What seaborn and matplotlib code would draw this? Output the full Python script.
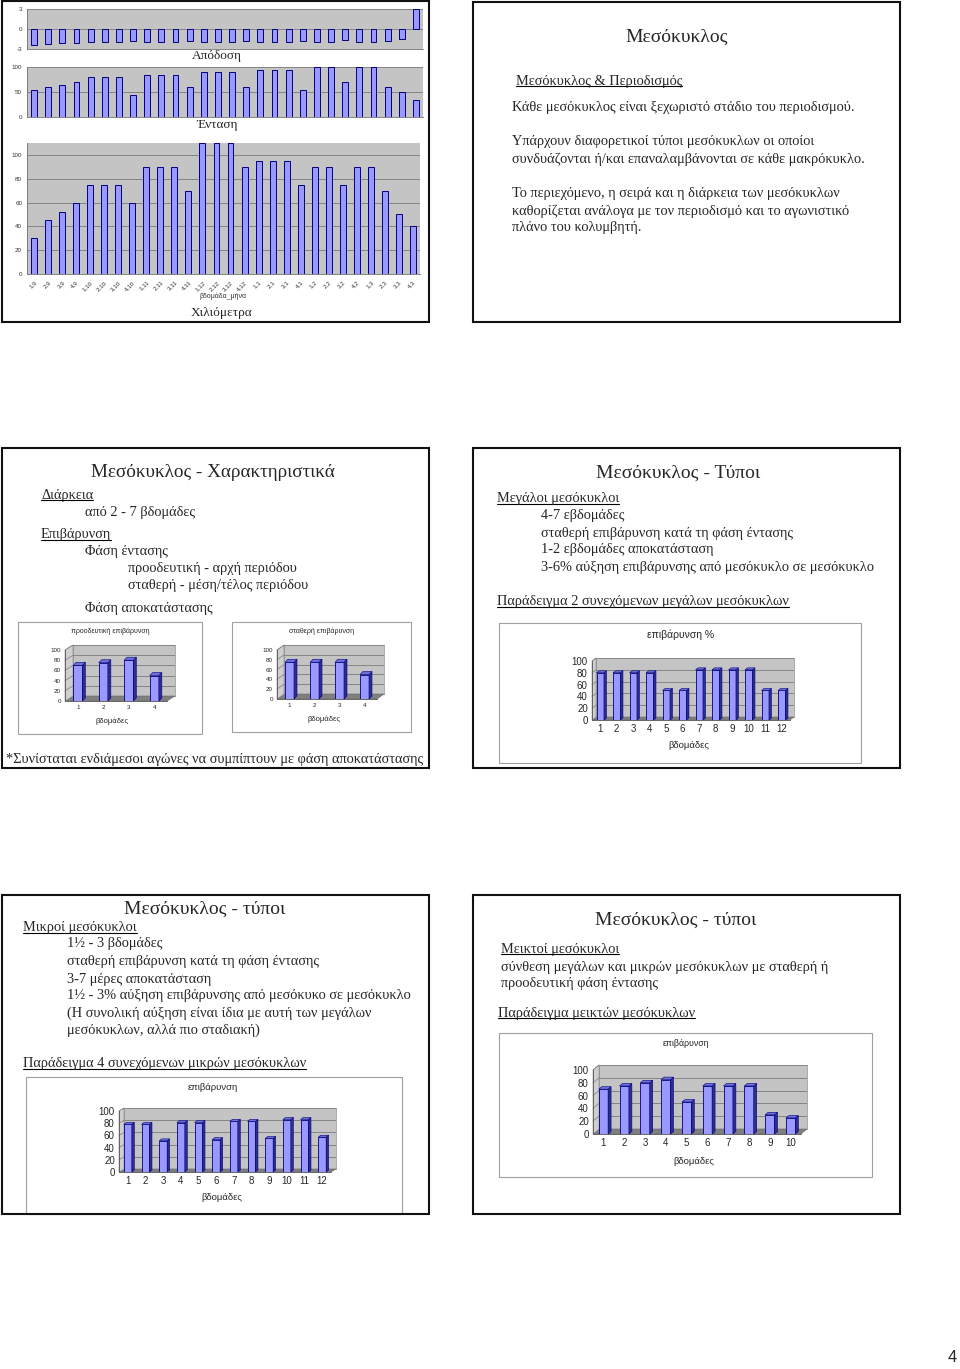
"""
Handout page with six slides about mesocycles (Greek swimming training notes).
"""
import matplotlib
matplotlib.use("Agg")
import matplotlib.pyplot as plt
import seaborn as sns
from matplotlib.patches import Rectangle, Polygon
from matplotlib.lines import Line2D

# ---- values ----
week_month = ["1,9", "2,9", "3,9", "4,9", "1,10", "2,10", "3,10", "4,10",
              "1,11", "2,11", "3,11", "4,11", "1,12", "2,12", "3,12", "4,12",
              "1,1", "2,1", "3,1", "4,1", "1,2", "2,2", "3,2", "4,2",
              "1,3", "2,3", "3,3", "4,3"]
performance = [-2.35, -2.25, -2.15, -2.05, -2.0, -2.0, -2.0, -1.8,
               -2.0, -2.0, -2.0, -1.8, -2.0, -2.0, -2.0, -1.8,
               -2.0, -2.0, -2.0, -1.8, -2.0, -2.0, -1.65, -2.0,
               -2.0, -1.8, -1.5, 3.0]
intensity = [55, 60, 65, 70, 80, 80, 80, 45, 85, 85, 85, 60, 90, 90, 90, 60,
             95, 95, 95, 55, 100, 100, 70, 100, 100, 60, 50, 35]
kilometres = [30, 45, 52, 60, 75, 75, 75, 60, 90, 90, 90, 70, 110, 110, 110, 90,
              95, 95, 95, 75, 90, 90, 75, 90, 90, 70, 50, 40]

weeks4 = [1, 2, 3, 4]
progressive_load = [70, 75, 80, 50]
steady_load = [75, 75, 75, 50]
weeks12 = [1, 2, 3, 4, 5, 6, 7, 8, 9, 10, 11, 12]
large_cycles_load = [80, 80, 80, 80, 50, 50, 85, 85, 85, 85, 50, 50]
small_cycles_load = [78, 78, 51, 81, 81, 53, 83, 83, 55, 86, 86, 57]
weeks10 = [1, 2, 3, 4, 5, 6, 7, 8, 9, 10]
mixed_cycles_load = [70, 75, 80, 85, 50, 75, 75, 75, 30, 25]
load_ticks = [0, 20, 40, 60, 80, 100]

W, H = 960, 1369
BAR = "#9999ff"
EDGE = "#000080"
SIDE = "#2e2e8a"
TOP = "#7070d8"
WALL = "#c4c4c4"
SERIF = ["Liberation Serif", "DejaVu Serif"]
SANS = ["Liberation Sans", "DejaVu Sans"]
BODY = 10.4

sns.set_style("white")
plt.rcParams["font.family"] = SANS
plt.rcParams["axes.unicode_minus"] = False

fig = plt.figure(figsize=(W / 100, H / 100), dpi=100)
renderer = fig.canvas.get_renderer()


def fbox(x0, y0, x1, y1):
    # pixel box (top-left origin) -> figure fractions
    return [x0 / W, 1 - y1 / H, (x1 - x0) / W, (y1 - y0) / H]


def ftext(x, y, s, size=BODY, ha="left", family=SERIF, underline=False, **kw):
    t = fig.text(x / W, 1 - y / H, s, fontsize=size, ha=ha, va="center",
                 family=family, **kw)
    if underline:
        bb = t.get_window_extent(renderer)
        _, _, d = renderer.get_text_width_height_descent("lp", t.get_fontproperties(), ismath=False)
        yl = bb.y0 + d - 1.5
        fig.add_artist(Line2D([bb.x0 / W, bb.x1 / W], [yl / H, yl / H],
                              color="black", lw=0.8))
    return t


def slide_border(x0, y0, x1, y1):
    fig.add_artist(Rectangle((x0 / W, 1 - y1 / H), (x1 - x0) / W, (y1 - y0) / H,
                             transform=fig.transFigure, fill=False,
                             edgecolor="#111111", lw=1.5, zorder=0.2))


def flat_chart(box, values, ylim, yticks, show_x=False):
    ax = fig.add_axes(fbox(*box))
    sns.barplot(x=week_month, y=values, ax=ax, color=BAR, edgecolor=EDGE,
                linewidth=0.7, width=0.42, saturation=1)
    ax.set_facecolor(WALL)
    ax.set_xlim(-0.5, len(week_month) - 0.5)
    ax.set_ylim(*ylim)
    ax.set_yticks(yticks)
    ax.yaxis.grid(True, color="#7a7a7a", lw=0.6)
    ax.xaxis.grid(False)
    ax.set_axisbelow(True)
    ax.set_xlabel("")
    ax.set_ylabel("")
    for side in ["top", "right"]:
        ax.spines[side].set_visible(False)
    for side in ["left", "bottom"]:
        ax.spines[side].set_color("#707070")
        ax.spines[side].set_linewidth(0.6)
    ax.tick_params(axis="y", labelsize=4.5, length=2, width=0.5, pad=1.5,
                   colors="#333333")
    if show_x:
        ax.set_xticks(range(len(week_month)))
        ax.set_xticklabels(week_month, rotation=45, ha="right",
                           rotation_mode="anchor", fontsize=4.5, color="#333333")
        ax.tick_params(axis="x", length=2, width=0.5, pad=2)
    else:
        ax.set_xticks([])
    return ax


def chart3d(box, weeks, values, tick_size, wall=(5, 4), depth=(3, 2.5), width=0.45):
    x0, y0, x1, y1 = box
    ox, oy = wall
    back = fig.add_axes(fbox(x0 + ox, y0 - oy, x1 + ox, y1 - oy), zorder=0.5)
    back.set_facecolor(WALL)
    back.set_ylim(0, 100)
    back.set_yticks(load_ticks)
    back.yaxis.grid(True, color="#7a7a7a", lw=0.6)
    back.set_xticks([])
    back.tick_params(left=False, labelleft=False)
    for s in back.spines.values():
        s.set_color("#8a8a8a")
        s.set_linewidth(0.5)

    front = fig.add_axes(fbox(x0, y0, x1, y1), zorder=0.8)
    front.patch.set_alpha(0)
    sns.barplot(x=weeks, y=values, ax=front, color=BAR, edgecolor=EDGE,
                linewidth=0.6, width=width, saturation=1)
    n = len(weeks)
    front.set_xlim(-0.5, n - 0.5)
    front.set_ylim(0, 100)
    front.set_yticks(load_ticks)
    front.set_xlabel("")
    front.set_ylabel("")
    for side in ["top", "right"]:
        front.spines[side].set_visible(False)
    for side in ["left", "bottom"]:
        front.spines[side].set_color("#555555")
        front.spines[side].set_linewidth(0.6)
    front.tick_params(axis="y", labelsize=tick_size, length=2, width=0.5, pad=1)
    front.tick_params(axis="x", labelsize=tick_size, length=0, pad=3)

    # floor and side wall
    pts = [(x0, y1), (x1, y1), (x1 + ox, y1 - oy), (x0 + ox, y1 - oy)]
    fig.add_artist(Polygon([(px / W, 1 - py / H) for px, py in pts], closed=True,
                           transform=fig.transFigure, facecolor="#7f7f7f",
                           edgecolor="#666666", lw=0.4, zorder=0.6))
    pts = [(x0, y1), (x0, y0), (x0 + ox, y0 - oy), (x0 + ox, y1 - oy)]
    fig.add_artist(Polygon([(px / W, 1 - py / H) for px, py in pts], closed=True,
                           transform=fig.transFigure, facecolor="#cfcfcf",
                           edgecolor="#8a8a8a", lw=0.4, zorder=0.6))
    inv = fig.transFigure.inverted()
    for v in load_ticks[1:]:
        fx, fy = inv.transform(front.transData.transform((-0.5, v)))
        fig.add_artist(Line2D([fx, fx + ox / W], [fy, fy + oy / H],
                              transform=fig.transFigure, color="#7a7a7a",
                              lw=0.5, zorder=0.65))

    # pseudo 3D faces on the bars
    dx = depth[0] / ((x1 - x0) / n)
    dy = depth[1] / ((y1 - y0) / 100)
    for p in front.patches:
        bx, bw, bh = p.get_x(), p.get_width(), p.get_height()
        front.add_patch(Polygon([(bx + bw, 0), (bx + bw + dx, dy),
                                 (bx + bw + dx, bh + dy), (bx + bw, bh)],
                                closed=True, facecolor=SIDE, edgecolor=EDGE,
                                lw=0.4, clip_on=False))
        front.add_patch(Polygon([(bx, bh), (bx + dx, bh + dy),
                                 (bx + bw + dx, bh + dy), (bx + bw, bh)],
                                closed=True, facecolor=TOP, edgecolor=EDGE,
                                lw=0.4, clip_on=False))
    return front


def chart_frame(x0, y0, x1, y1):
    fig.add_artist(Rectangle((x0 / W, 1 - y1 / H), (x1 - x0) / W, (y1 - y0) / H,
                             transform=fig.transFigure, facecolor="white",
                             edgecolor="#a0a0a0", lw=0.8, zorder=0.1))


# ---- slide 1: three bar charts ----
slide_border(2, 1, 429, 322)
flat_chart((27, 9, 423, 49), performance, (-3, 3), [-3, 0, 3])
ftext(217, 56, "Απόδοση", size=9.5, ha="center")
flat_chart((27, 67, 423, 117), intensity, (0, 100), [0, 50, 100])
ftext(217, 125, "Ένταση", size=9.5, ha="center")
flat_chart((27, 143, 420, 274), kilometres, (0, 110), [0, 20, 40, 60, 80, 100], show_x=True)
ftext(223, 296, "βδομάδα_μήνα", size=5, ha="center", family=SANS, color="#333333")
ftext(222, 313, "Χιλιόμετρα", size=9.5, ha="center")

# ---- slide 2 ----
slide_border(473, 2, 900, 322)
ftext(677, 37, "Μεσόκυκλος", size=14, ha="center")
ftext(516, 81, "Μεσόκυκλος & Περιοδισμός", underline=True)
ftext(512, 108, "Κάθε μεσόκυκλος είναι ξεχωριστό στάδιο του περιοδισμού.")
ftext(512, 142, "Υπάρχουν διαφορετικοί τύποι μεσόκυκλων οι οποίοι")
ftext(512, 159, "συνδυάζονται ή/και επαναλαμβάνονται σε κάθε μακρόκυκλο.")
ftext(512, 193, "Το περιεχόμενο, η σειρά και η διάρκεια των μεσόκυκλων")
ftext(512, 211, "καθορίζεται ανάλογα με τον περιοδισμό και το αγωνιστικό")
ftext(512, 228, "πλάνο του κολυμβητή.")

# ---- slide 3 ----
slide_border(2, 448, 429, 768)
ftext(213, 473, "Μεσόκυκλος - Χαρακτηριστικά", size=13.8, ha="center")
ftext(41, 495, "Διάρκεια", underline=True)
ftext(85, 512, "από 2 - 7 βδομάδες")
ftext(41, 535, "Επιβάρυνση", underline=True)
ftext(85, 552, "Φάση έντασης")
ftext(128, 569, "προοδευτική - αρχή περιόδου")
ftext(128, 586, "σταθερή - μέση/τέλος περιόδου")
ftext(85, 608, "Φάση αποκατάστασης")
chart_frame(18, 622, 202, 734)
ftext(110, 631, "προοδευτική επιβάρυνση", size=5, ha="center", family=SANS)
chart3d((65, 650, 167, 701), weeks4, progressive_load, 4.5,
        wall=(8, 5), depth=(3, 3), width=0.36)
ftext(112, 721, "βδομάδες", size=5.5, ha="center", family=SANS)
chart_frame(232, 622, 411, 732)
ftext(322, 631, "σταθερή επιβάρυνση", size=5, ha="center", family=SANS)
chart3d((277, 650, 377, 699), weeks4, steady_load, 4.5,
        wall=(7, 5), depth=(3, 3), width=0.36)
ftext(324, 719, "βδομάδες", size=5.5, ha="center", family=SANS)
ftext(6, 760, "*Συνίσταται ενδιάμεσοι αγώνες να συμπίπτουν με φάση αποκατάστασης")

# ---- slide 4 ----
slide_border(473, 448, 900, 768)
ftext(678, 473, "Μεσόκυκλος - Τύποι", size=14, ha="center")
ftext(497, 499, "Μεγάλοι μεσόκυκλοι", underline=True)
ftext(541, 516, "4-7 εβδομάδες")
ftext(541, 533, "σταθερή επιβάρυνση κατά τη φάση έντασης")
ftext(541, 550, "1-2 εβδομάδες αποκατάσταση")
ftext(541, 567, "3-6% αύξηση επιβάρυνσης από μεσόκυκλο σε μεσόκυκλο")
ftext(497, 602, "Παράδειγμα 2 συνεχόμενων μεγάλων μεσόκυκλων", underline=True)
chart_frame(499, 623, 861, 763)
ftext(681, 635, "επιβάρυνση %", size=7.5, ha="center", family=SANS)
chart3d((592, 661, 790, 720), weeks12, large_cycles_load, 7,
        wall=(4, 3), depth=(2.5, 2), width=0.45)
ftext(689, 746, "βδομάδες", size=6.8, ha="center", family=SANS)

# ---- slide 5 ----
slide_border(2, 895, 429, 1214)
chart_frame(26, 1077, 402, 1214)
ftext(205, 909, "Μεσόκυκλος - τύποι", size=14, ha="center")
ftext(23, 928, "Μικροί μεσόκυκλοι", underline=True)
ftext(67, 944, "1½ - 3 βδομάδες")
ftext(67, 962, "σταθερή επιβάρυνση κατά τη φάση έντασης")
ftext(67, 979, "3-7 μέρες αποκατάσταση")
ftext(67, 996, "1½ - 3% αύξηση επιβάρυνσης από μεσόκυκο σε μεσόκυκλο")
ftext(67, 1013, "(Η συνολική αύξηση είναι ίδια με αυτή των μεγάλων")
ftext(67, 1030, "μεσόκυκλων, αλλά πιο σταδιακή)")
ftext(23, 1064, "Παράδειγμα 4 συνεχόμενων μικρών μεσόκυκλων", underline=True)
ftext(213, 1087, "επιβάρυνση", size=6.8, ha="center", family=SANS)
chart3d((119, 1111, 331, 1172), weeks12, small_cycles_load, 7,
        wall=(5, 3), depth=(2.5, 2), width=0.45)
ftext(222, 1198, "βδομάδες", size=6.8, ha="center", family=SANS)

# ---- slide 6 ----
slide_border(473, 895, 900, 1214)
ftext(676, 920, "Μεσόκυκλος - τύποι", size=14, ha="center")
ftext(501, 949, "Μεικτοί μεσόκυκλοι", underline=True)
ftext(501, 967, "σύνθεση μεγάλων και μικρών μεσόκυκλων με σταθερή ή")
ftext(501, 984, "προοδευτική φάση έντασης")
ftext(498, 1013, "Παράδειγμα μεικτών μεσόκυκλων", underline=True)
chart_frame(499, 1033, 872, 1177)
ftext(686, 1044, "επιβάρυνση", size=6.3, ha="center", family=SANS)
chart3d((593, 1070, 801, 1134), weeks10, mixed_cycles_load, 7,
        wall=(6, 5), depth=(3, 2.5), width=0.45)
ftext(694, 1162, "βδομάδες", size=6.8, ha="center", family=SANS)

# page number
ftext(952, 1358, "4", size=12, ha="center", family=SANS)

fig.savefig("out.png", dpi=100, facecolor="white")
plt.close(fig)
